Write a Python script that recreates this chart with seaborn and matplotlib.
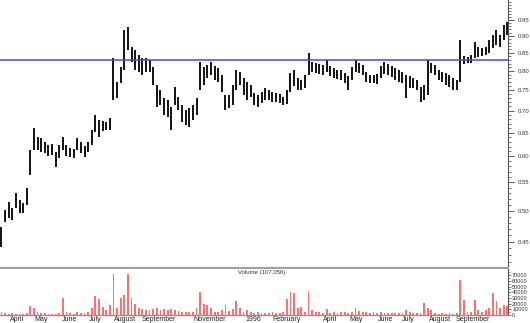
import numpy as np
import pandas as pd
import matplotlib
matplotlib.use("Agg")
import matplotlib.pyplot as plt
import seaborn as sns
from matplotlib.ticker import FixedLocator, NullFormatter, FuncFormatter
from matplotlib.transforms import Bbox, TransformedBbox, ScaledTranslation

# ---------------- data ----------------
start_date = "1995-03-24"          # first bar; each bar covers 3 trading days
resistance = 0.83

high = [0.473, 0.501, 0.515, 0.504, 0.531, 0.518, 0.513, 0.540, 0.613, 0.660,
        0.641, 0.639, 0.630, 0.624, 0.626, 0.609, 0.624, 0.641, 0.624, 0.617,
        0.615, 0.639, 0.630, 0.622, 0.630, 0.656, 0.690, 0.678, 0.676, 0.674,
        0.683, 0.836, 0.771, 0.811, 0.919, 0.928, 0.867, 0.859, 0.844, 0.836,
        0.836, 0.830, 0.811, 0.763, 0.751, 0.731, 0.726, 0.709, 0.758, 0.733,
        0.714, 0.702, 0.706, 0.714, 0.731, 0.825, 0.811, 0.816, 0.825, 0.814,
        0.808, 0.789, 0.738, 0.738, 0.763, 0.803, 0.797, 0.782, 0.771, 0.763,
        0.743, 0.738, 0.746, 0.756, 0.751, 0.746, 0.743, 0.741, 0.733, 0.751,
        0.795, 0.803, 0.782, 0.776, 0.789, 0.850, 0.825, 0.822, 0.819, 0.816,
        0.830, 0.814, 0.808, 0.803, 0.803, 0.795, 0.787, 0.811, 0.830, 0.822,
        0.816, 0.797, 0.789, 0.789, 0.792, 0.814, 0.825, 0.819, 0.814, 0.808,
        0.803, 0.797, 0.789, 0.787, 0.782, 0.776, 0.758, 0.763, 0.830, 0.822,
        0.816, 0.803, 0.797, 0.795, 0.789, 0.782, 0.776, 0.888, 0.842, 0.839,
        0.844, 0.882, 0.867, 0.865, 0.867, 0.888, 0.903, 0.919, 0.903, 0.934,
        0.944]

low = [0.442, 0.481, 0.488, 0.485, 0.504, 0.496, 0.496, 0.510, 0.564, 0.613,
       0.613, 0.609, 0.607, 0.601, 0.603, 0.579, 0.597, 0.613, 0.601, 0.599,
       0.597, 0.613, 0.607, 0.599, 0.609, 0.624, 0.652, 0.641, 0.654, 0.656,
       0.656, 0.726, 0.731, 0.768, 0.803, 0.859, 0.825, 0.803, 0.797, 0.789,
       0.797, 0.797, 0.763, 0.709, 0.714, 0.690, 0.685, 0.656, 0.714, 0.702,
       0.674, 0.667, 0.663, 0.678, 0.690, 0.751, 0.763, 0.782, 0.789, 0.776,
       0.771, 0.746, 0.702, 0.706, 0.714, 0.751, 0.763, 0.738, 0.726, 0.733,
       0.714, 0.709, 0.718, 0.726, 0.726, 0.721, 0.721, 0.718, 0.714, 0.716,
       0.746, 0.761, 0.751, 0.751, 0.756, 0.789, 0.797, 0.795, 0.792, 0.789,
       0.797, 0.787, 0.782, 0.779, 0.776, 0.768, 0.751, 0.776, 0.797, 0.795,
       0.789, 0.771, 0.768, 0.768, 0.766, 0.782, 0.792, 0.789, 0.784, 0.776,
       0.771, 0.768, 0.731, 0.756, 0.756, 0.751, 0.721, 0.726, 0.738, 0.795,
       0.789, 0.776, 0.771, 0.763, 0.758, 0.751, 0.751, 0.771, 0.819, 0.822,
       0.822, 0.836, 0.839, 0.842, 0.844, 0.850, 0.865, 0.873, 0.867, 0.888,
       0.903]

volume = [5000, 3000, 2000, 4000, 2000, 1500, 2000, 3000, 16000, 12000,
          6000, 4000, 3000, 2000, 2500, 2000, 3000, 30000, 5000, 3000,
          2000, 5000, 3000, 4000, 5000, 12000, 33000, 28000, 14000, 9000,
          18000, 73000, 12000, 30000, 36000, 72000, 30000, 20000, 12000, 10000,
          9000, 8000, 10000, 13000, 8000, 10000, 9000, 11000, 8000, 7000,
          6000, 5000, 6000, 5000, 12000, 40000, 20000, 18000, 12000, 5000,
          6000, 8000, 18000, 7000, 10000, 25000, 12000, 5000, 8000, 6000,
          4000, 5000, 3000, 4000, 3000, 5000, 4000, 3000, 5000, 28000,
          40000, 38000, 12000, 14000, 6000, 43000, 8000, 6000, 5000, 4000,
          10000, 4000, 5000, 4000, 6000, 5000, 4000, 6000, 12000, 7000,
          5000, 6000, 4000, 5000, 3000, 6000, 4000, 3000, 4000, 3000,
          3000, 4000, 9000, 5000, 3000, 3000, 4000, 22000, 12000, 8000,
          3000, 2000, 3000, 2000, 3000, 2000, 4000, 62000, 27000, 5000,
          6000, 27000, 8000, 5000, 9000, 12000, 38000, 25000, 12000, 17000,
          15000]

volume_title = "Volume (107,056)"
month_starts = pd.date_range("1995-04-01", "1996-11-01", freq="MS")
month_labels = ["April", "May", "June", "July", "August", "September", "",
                "November", "", "1996", "February", "", "April", "May", "June",
                "July", "August", "September", "", "November"]
price_ticks = [0.45, 0.50, 0.55, 0.60, 0.65, 0.70, 0.75, 0.80, 0.85, 0.90, 0.95]
volume_ticks = [0, 10000, 20000, 30000, 40000, 50000, 60000, 70000]

# ---------------- figure ----------------
sns.set_theme(style="white")
plt.rcParams["font.family"] = ["Liberation Sans", "DejaVu Sans"]

W, H = 530, 323
fig = plt.figure(figsize=(W / 100, H / 100), dpi=100)
fig.patch.set_facecolor("white")
plot_right = 508
ax = fig.add_axes([0, 1 - 268 / H, plot_right / W, 268 / H])
axv = fig.add_axes([0, 1 - 315 / H, plot_right / W, (315 - 269) / H])

idx = np.arange(len(high))
df = pd.DataFrame({"bar": idx, "high": high, "low": low, "volume": volume})

# price bars
ax.vlines(df["bar"], df["low"], df["high"], color="black", lw=1.3)
ax.axhline(resistance, color="#4545f0", lw=1.1, zorder=3)
ax.set_yscale("log")
ax.set_ylim(0.412, 1.016)
ax.set_xlim(-0.4, len(high) - 0.8)
ax.yaxis.tick_right()
ax.yaxis.set_major_locator(FixedLocator(price_ticks))
ax.yaxis.set_major_formatter(FuncFormatter(lambda v, p: f"{v:.2f}"))
ax.yaxis.set_minor_locator(FixedLocator(np.arange(0.42, 1.015, 0.01)))
ax.yaxis.set_minor_formatter(NullFormatter())
ax.tick_params(axis="y", which="major", length=4, width=0.6, labelsize=4.3,
               pad=3, color="#444444", labelcolor="#333333")
ax.tick_params(axis="y", which="minor", length=2, width=0.5, color="#444444")
ax.set_xticks([])
for s in ["left", "top"]:
    ax.spines[s].set_visible(False)
ax.spines["right"].set_color("#555555")
ax.spines["right"].set_linewidth(0.8)
ax.spines["bottom"].set_color("#a0a0a0")
ax.spines["bottom"].set_linewidth(1.6)

# volume bars
sns.barplot(data=df, x="bar", y="volume", ax=axv, native_scale=True,
            color="#ff7070", saturation=1, width=0.5, linewidth=0)
axv.set_xlim(ax.get_xlim())
axv.set_ylim(0, 81000)
axv.set_xlabel("")
axv.set_ylabel("")
axv.yaxis.tick_right()
axv.yaxis.set_major_locator(FixedLocator(volume_ticks))
axv.yaxis.set_major_formatter(FuncFormatter(lambda v, p: f"{int(v)}"))
axv.yaxis.set_minor_locator(FixedLocator(np.arange(5000, 80000, 10000)))
axv.yaxis.set_minor_formatter(NullFormatter())
axv.tick_params(axis="y", which="major", length=2, width=0.5, labelsize=4.1,
                pad=1, color="#444444", labelcolor="#333333")
axv.tick_params(axis="y", which="minor", length=1.2, width=0.4, color="#444444")
for s in ["left", "top"]:
    axv.spines[s].set_visible(False)
axv.spines["right"].set_color("#555555")
axv.spines["right"].set_linewidth(0.8)
axv.spines["bottom"].set_color("#909090")
axv.spines["bottom"].set_linewidth(1.0)
axv.text(0.515, 0.98, volume_title, transform=axv.transAxes, ha="center",
         va="top", fontsize=4.3, color="#333333")

# month ticks (trading-day positions)
month_pos = np.busday_count(np.datetime64(start_date),
                            month_starts.values.astype("datetime64[D]")) / 3.0
axv.set_xticks(month_pos)
axv.set_xticklabels(month_labels)
axv.tick_params(axis="x", which="major", length=6, width=0.6, color="#444444",
                labelsize=5, pad=-5.2, labelcolor="#222222")
clip = TransformedBbox(Bbox([[0, 0], [plot_right / W, 1]]), fig.transFigure)
shift = ScaledTranslation(1.5 / 100, 0, fig.dpi_scale_trans)
for lbl in axv.get_xticklabels():
    lbl.set_ha("left")
    lbl.set_transform(lbl.get_transform() + shift)
    lbl.set_clip_box(clip)
    lbl.set_clip_on(True)

fig.savefig("out.png", dpi=100, facecolor="white")
